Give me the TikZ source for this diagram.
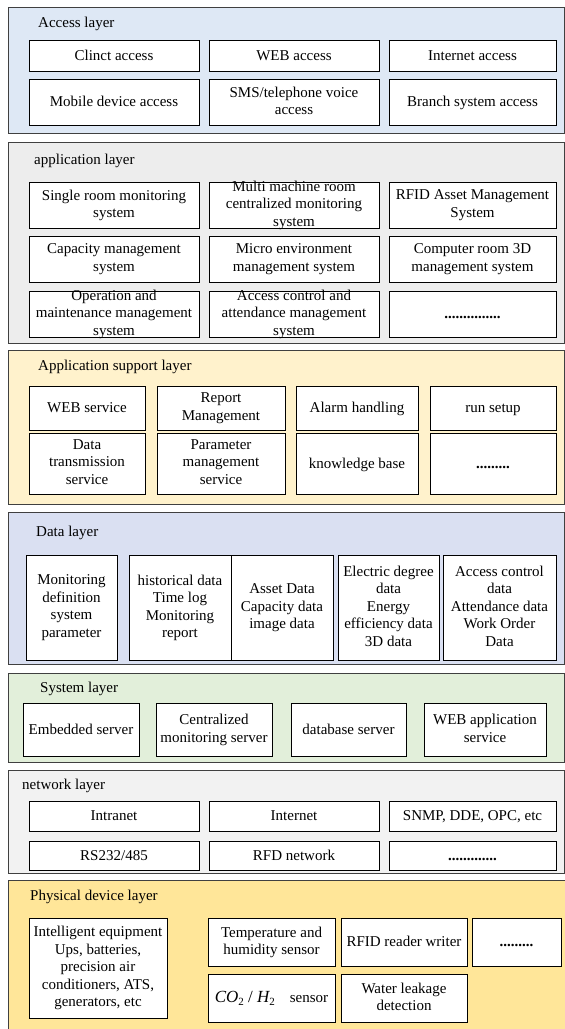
\documentclass[tikz,border=0pt]{standalone}
\usepackage{fontspec}
\setmainfont{Liberation Serif}
\definecolor{accfill}{HTML}{DEE8F5}
\definecolor{appfill}{HTML}{EDEDED}
\definecolor{supfill}{HTML}{FFF2CC}
\definecolor{datfill}{HTML}{DAE0F2}
\definecolor{sysfill}{HTML}{E2EFDA}
\definecolor{netfill}{HTML}{F2F2F2}
\definecolor{phyfill}{HTML}{FFE699}
\definecolor{edge}{HTML}{404040}
\tikzset{
  layerbox/.style={draw=edge, line width=0.8pt, rectangle, inner sep=0pt},
  boxnode/.style={draw=black, line width=0.8pt, fill=white, rectangle, inner sep=0pt},
  txt/.style={align=center, inner sep=0pt, font=\fontsize{15}{17.5}\selectfont,
    execute at begin node=\strut, execute at end node=\strut, yshift=-1.2pt},
  ttl/.style={anchor=west, inner sep=0pt, font=\fontsize{15}{17.5}\selectfont},
}
% #1 name, #2 x1, #3 y1, #4 x2, #5 y2, #6 text
\newcommand\bx[6]{%
  \node[boxnode, minimum width={#4-#2}, minimum height={#5-#3}] (#1) at ({(#2+#4)/2},{(#3+#5)/2}) {};
  \node[txt] (#1-t) at (#1.center) {#6};}
% #1 name, #2 x1, #3 y1, #4 x2, #5 y2, #6 fill, #7 title x, #8 title y, #9 title
\newcommand\layerrect[9]{%
  \node[layerbox, fill=#6, minimum width={#4-#2}, minimum height={#5-#3}] (#1) at ({(#2+#4)/2},{(#3+#5)/2}) {};
  \node[ttl] (#1-t) at (#7,#8) {#9};}
\begin{document}
\begin{tikzpicture}[x=1pt,y=-1pt]
\useasboundingbox (0,0) rectangle (565,1029);
\begin{scope}
\clip (0,0) rectangle (565,1029);
% Access layer
\layerrect{acc}{8}{7}{564}{133}{accfill}{38}{24}{Access layer}
\bx{a1}{29}{40}{199}{71}{Clinct access}
\bx{a2}{209}{40}{379}{71}{WEB access}
\bx{a3}{389}{40}{556}{71}{Internet access}
\bx{a4}{29}{79}{199}{125}{Mobile device access}
\bx{a5}{209}{79}{379}{125}{SMS/telephone voice\\access}
\bx{a6}{389}{79}{556}{125}{Branch system access}
% Application layer
\layerrect{app}{8}{142}{564}{343}{appfill}{34}{161}{application layer}
\bx{p1}{29}{182}{199}{228}{Single room monitoring\\system}
\bx{p2}{209}{182}{379}{228}{Multi machine room\\centralized monitoring\\system}
\bx{p3}{389}{182}{556}{228}{RFID Asset Management\\System}
\bx{p4}{29}{236}{199}{282}{Capacity management\\system}
\bx{p5}{209}{236}{379}{282}{Micro environment\\management system}
\bx{p6}{389}{236}{556}{282}{Computer room 3D\\management system}
\bx{p7}{29}{291}{199}{337}{Operation and\\maintenance management\\system}
\bx{p8}{209}{291}{379}{337}{Access control and\\attendance management\\system}
\bx{p9}{389}{291}{556}{337}{\textbf{...............}}
% Application support layer
\layerrect{sup}{8}{350}{564}{504}{supfill}{38}{367}{Application support layer}
\bx{s1}{29}{386}{145}{430}{WEB service}
\bx{s2}{157}{386}{285}{430}{Report\\Management}
\bx{s3}{296}{386}{418}{430}{Alarm handling}
\bx{s4}{430}{386}{556}{430}{run setup}
\bx{s5}{29}{433}{145}{494}{Data\\transmission\\service}
\bx{s6}{157}{433}{285}{494}{Parameter\\management\\service}
\bx{s7}{296}{433}{418}{494}{knowledge base}
\bx{s8}{430}{433}{556}{494}{\textbf{.........}}
% Data layer
\layerrect{dat}{8}{512}{564}{664}{datfill}{36}{533}{Data layer}
\bx{d1}{26}{555}{117}{660}{Monitoring\\definition\\system\\parameter}
\bx{d2}{129}{555}{231}{660}{historical data\\Time log\\Monitoring\\report}
\bx{d3}{231}{555}{333}{660}{Asset Data\\Capacity data\\image data}
\bx{d4}{338}{555}{439}{660}{Electric degree\\data\\Energy\\efficiency data\\3D data}
\bx{d5}{443}{555}{556}{660}{Access control\\data\\Attendance data\\Work Order\\Data}
% System layer
\layerrect{sys}{8}{673}{564}{762}{sysfill}{40}{689}{System layer}
\bx{y1}{23}{703}{139}{756}{Embedded server}
\bx{y2}{156}{703}{272}{756}{Centralized\\monitoring server}
\bx{y3}{291}{703}{406}{756}{database server}
\bx{y4}{424}{703}{546}{756}{WEB application\\service}
% Network layer
\layerrect{net}{8}{770}{564}{873}{netfill}{22}{786}{network layer}
\bx{n1}{29}{801}{199}{831}{Intranet}
\bx{n2}{209}{801}{379}{831}{Internet}
\bx{n3}{389}{801}{556}{831}{SNMP, DDE, OPC, etc}
\bx{n4}{29}{841}{199}{870}{RS232/485}
\bx{n5}{209}{841}{379}{870}{RFD network}
\bx{n6}{389}{841}{556}{870}{\textbf{.............}}
% Physical device layer
\layerrect{phy}{8}{880}{570}{1035}{phyfill}{30}{897}{Physical device layer}
\bx{f1}{29}{918}{167}{1018}{Intelligent equipment\\Ups, batteries,\\precision air\\conditioners, ATS,\\generators, etc}
\bx{f2}{208}{918}{335}{966}{Temperature and\\humidity sensor}
\bx{f3}{341}{918}{467}{966}{RFID reader writer}
\bx{f4}{472}{918}{561}{966}{\textbf{.........}}
\bx{f5}{208}{974}{335}{1022}{{\fontsize{17}{17}\selectfont\itshape CO}\raisebox{-0.35ex}{\fontsize{11}{11}\selectfont 2}{\fontsize{17}{17}\selectfont\ /\ \itshape H}\raisebox{-0.35ex}{\fontsize{11}{11}\selectfont 2}\quad sensor}
\bx{f6}{341}{974}{467}{1022}{Water leakage\\detection}
\end{scope}
\end{tikzpicture}
\end{document}
